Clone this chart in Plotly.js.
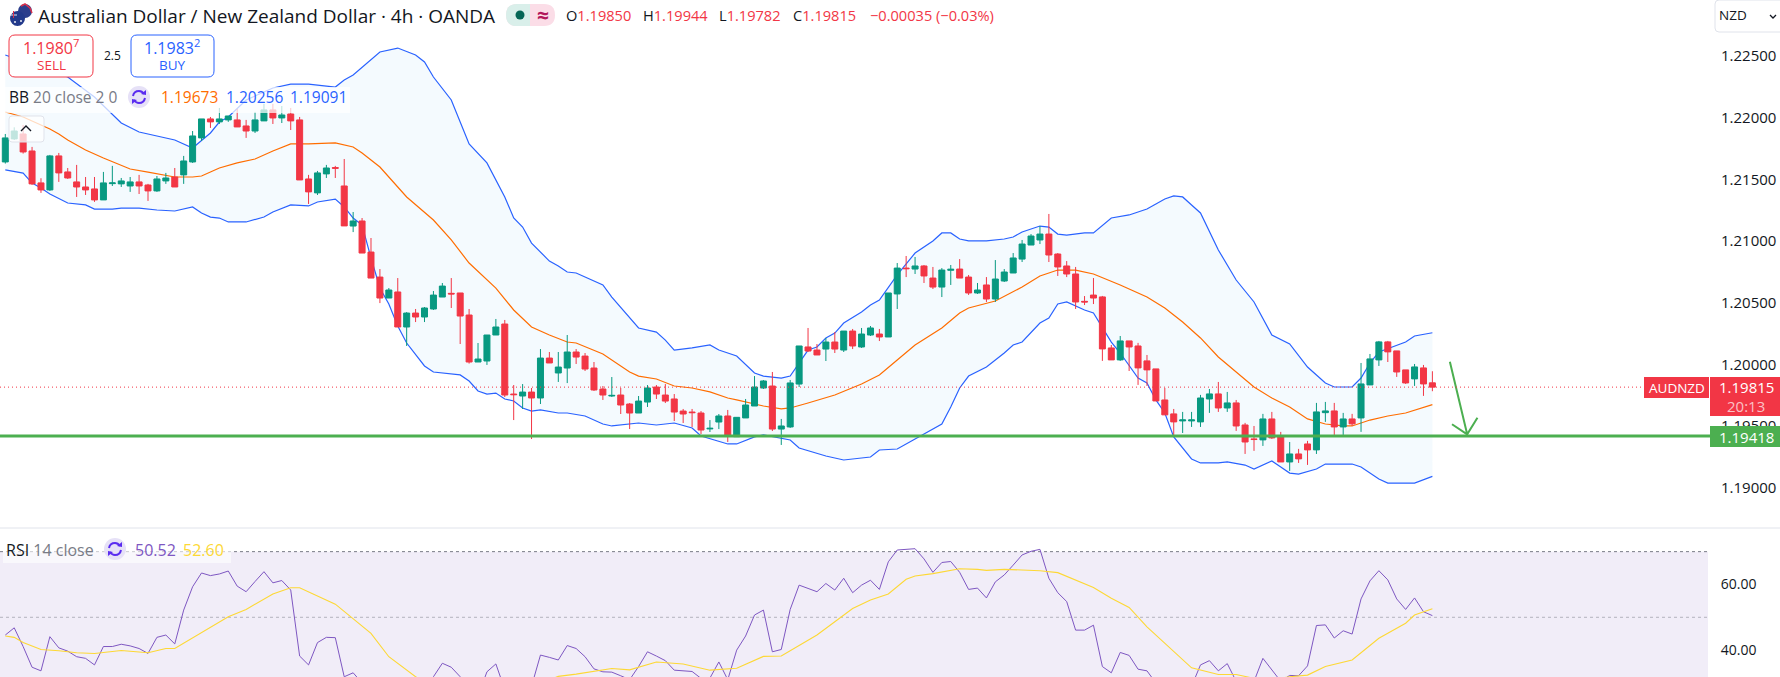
<!DOCTYPE html>
<html><head><meta charset="utf-8">
<script src="https://cdn.plot.ly/plotly-3.0.1.min.js"></script>
<style>html,body{margin:0;padding:0;background:#fff;overflow:hidden}#c{width:1780px;height:677px}</style>
</head><body><div id="c"></div>
<script>
const opens=[1.21642,1.21829,1.21869,1.21731,1.21472,1.21415,1.21691,1.21561,1.21480,1.21439,
1.21423,1.21334,1.21466,1.21464,1.21447,1.21480,1.21455,1.21407,1.21488,1.21520,
1.21537,1.21642,1.21837,1.21991,1.21967,1.21983,1.21983,1.21934,1.21893,1.21975,
1.22064,1.21999,1.22031,1.21983,1.21504,1.21391,1.21545,1.21596,1.21447,1.21122,
1.21163,1.20911,1.20708,1.20538,1.20587,1.20303,1.20416,1.20384,1.20449,1.20546,
1.20576,1.20579,1.20400,1.20019,1.20027,1.20238,1.20327,1.19759,1.19743,1.19775,
1.19727,1.20051,1.19930,1.19970,1.20100,1.20067,1.19970,1.19800,1.19743,1.19751,
1.19678,1.19605,1.19694,1.19816,1.19751,1.19719,1.19621,1.19613,1.19605,1.19476,
1.19532,1.19581,1.19413,1.19565,1.19662,1.19808,1.19824,1.19475,1.19492,1.19840,
1.20141,1.20116,1.20124,1.20181,1.20116,1.20270,1.20141,1.20238,1.20246,1.20222,
1.20571,1.20781,1.20773,1.20798,1.20700,1.20627,1.20763,1.20773,1.20708,1.20579,
1.20644,1.20530,1.20676,1.20741,1.20854,1.20968,1.21009,1.21057,1.20895,1.20798,
1.20733,1.20511,1.20562,1.20547,1.20133,1.20036,1.20190,1.20149,1.20028,1.19963,
1.19711,1.19598,1.19541,1.19541,1.19533,1.19719,1.19760,1.19646,1.19687,1.19508,
1.19395,1.19387,1.19557,1.19411,1.19208,1.19273,1.19354,1.19306,1.19608,1.19622,
1.19492,1.19557,1.19565,1.19833,1.20036,1.20182,1.20109,1.19955,1.19882,1.19971,1.19850];
const highs=[1.21869,1.21923,1.21942,1.21764,1.21510,1.21699,1.21715,1.21593,1.21618,1.21520,
1.21520,1.21561,1.21610,1.21512,1.21520,1.21537,1.21464,1.21528,1.21553,1.21593,
1.21691,1.21893,1.21991,1.22007,1.22080,1.22015,1.22072,1.21983,1.22048,1.22113,
1.22113,1.22096,1.22080,1.22007,1.21537,1.21569,1.21618,1.21610,1.21666,1.21236,
1.21187,1.21025,1.20773,1.20619,1.20700,1.20424,1.20449,1.20465,1.20595,1.20660,
1.20700,1.20579,1.20449,1.20173,1.20238,1.20368,1.20360,1.19832,1.19840,1.19808,
1.20124,1.20100,1.20100,1.20238,1.20124,1.20092,1.20019,1.19824,1.19897,1.19808,
1.19686,1.19743,1.19832,1.19832,1.19840,1.19759,1.19638,1.19638,1.19621,1.19548,
1.19597,1.19630,1.19570,1.19719,1.19905,1.19873,1.19938,1.19557,1.19873,1.20149,
1.20295,1.20165,1.20214,1.20262,1.20270,1.20287,1.20295,1.20311,1.20287,1.20579,
1.20822,1.20879,1.20871,1.20806,1.20790,1.20781,1.20806,1.20854,1.20725,1.20660,
1.20708,1.20846,1.20773,1.20903,1.21009,1.21057,1.21122,1.21220,1.20903,1.20838,
1.20790,1.20554,1.20700,1.20555,1.20157,1.20230,1.20190,1.20174,1.20076,1.19963,
1.19809,1.19638,1.19614,1.19614,1.19752,1.19800,1.19857,1.19776,1.19711,1.19525,
1.19500,1.19598,1.19614,1.19452,1.19370,1.19314,1.19379,1.19687,1.19695,1.19687,
1.19606,1.19598,1.20011,1.20084,1.20190,1.20190,1.20109,1.19955,1.20003,1.19995,1.19944];
const lows=[1.21629,1.21820,1.21710,1.21455,1.21391,1.21407,1.21480,1.21504,1.21358,1.21374,
1.21318,1.21334,1.21447,1.21439,1.21399,1.21382,1.21326,1.21399,1.21464,1.21439,
1.21464,1.21634,1.21812,1.21918,1.21950,1.21967,1.21926,1.21837,1.21877,1.21975,
1.21950,1.21958,1.21901,1.21496,1.21301,1.21374,1.21512,1.21512,1.21123,1.21073,
1.20903,1.20700,1.20497,1.20538,1.20303,1.20149,1.20343,1.20343,1.20441,1.20546,
1.20457,1.20165,1.20006,1.20019,1.19995,1.20238,1.19735,1.19548,1.19638,1.19394,
1.19678,1.20011,1.19857,1.19848,1.20003,1.19946,1.19784,1.19711,1.19735,1.19597,
1.19475,1.19605,1.19654,1.19719,1.19686,1.19540,1.19524,1.19491,1.19435,1.19451,
1.19475,1.19370,1.19413,1.19565,1.19662,1.19800,1.19459,1.19346,1.19484,1.19816,
1.20100,1.20076,1.20027,1.20092,1.20100,1.20124,1.20133,1.20230,1.20189,1.20222,
1.20449,1.20708,1.20733,1.20660,1.20611,1.20546,1.20644,1.20700,1.20563,1.20571,
1.20506,1.20506,1.20668,1.20741,1.20830,1.20968,1.20976,1.20830,1.20717,1.20708,
1.20449,1.20481,1.20489,1.20028,1.20036,1.20028,1.19946,1.19833,1.19825,1.19703,
1.19590,1.19419,1.19443,1.19492,1.19492,1.19606,1.19614,1.19614,1.19460,1.19273,
1.19298,1.19338,1.19395,1.19208,1.19135,1.19200,1.19184,1.19273,1.19533,1.19427,
1.19427,1.19500,1.19452,1.19833,1.19987,1.20019,1.19898,1.19841,1.19825,1.19744,1.19782];
const closes=[1.21837,1.21893,1.21723,1.21464,1.21415,1.21691,1.21553,1.21512,1.21439,1.21415,
1.21334,1.21472,1.21472,1.21488,1.21480,1.21447,1.21407,1.21504,1.21512,1.21439,
1.21650,1.21853,1.21991,1.21967,1.21991,1.22015,1.21926,1.21893,1.21983,1.22064,
1.21999,1.22023,1.21975,1.21496,1.21399,1.21553,1.21593,1.21591,1.21123,1.21163,
1.20903,1.20700,1.20538,1.20603,1.20303,1.20416,1.20384,1.20457,1.20562,1.20635,
1.20571,1.20392,1.20019,1.20043,1.20238,1.20303,1.19751,1.19754,1.19775,1.19727,
1.20051,1.20011,1.19978,1.20100,1.20059,1.19962,1.19792,1.19751,1.19748,1.19670,
1.19605,1.19702,1.19808,1.19759,1.19702,1.19613,1.19597,1.19608,1.19467,1.19481,
1.19581,1.19419,1.19570,1.19670,1.19816,1.19865,1.19475,1.19500,1.19849,1.20149,
1.20108,1.20076,1.20181,1.20124,1.20270,1.20149,1.20246,1.20295,1.20222,1.20579,
1.20781,1.20776,1.20798,1.20717,1.20627,1.20765,1.20771,1.20700,1.20579,1.20603,
1.20530,1.20692,1.20749,1.20863,1.20976,1.21041,1.21057,1.20887,1.20790,1.20733,
1.20506,1.20506,1.20538,1.20125,1.20036,1.20190,1.20141,1.19971,1.19955,1.19703,
1.19590,1.19533,1.19549,1.19549,1.19727,1.19760,1.19646,1.19687,1.19500,1.19370,
1.19390,1.19557,1.19403,1.19208,1.19273,1.19233,1.19306,1.19614,1.19622,1.19492,
1.19557,1.19517,1.19841,1.20044,1.20182,1.20101,1.19938,1.19849,1.19979,1.19841,1.19815];

const upperIdx=[0,7,10,13,15,17,19,21,22,23,24,25,27,30,32,34,37,38,39,42,44,46,47,48,50,52,54,56,57,58,59,61,62,63,64,67,68,70,71,73,74,75,77,79,80,82,83,84,85,87,88,89,90,91,92,93,94,96,97,98,99,100,102,104,105,106,107,108,110,112,113,114,116,117,118,119,121,122,124,126,128,130,131,132,133,134,136,138,140,141,142,144,146,147,148,149,151,152,153,154,156,157,158,160];
const upperVal=[1.22510,1.22331,1.22169,1.21958,1.21885,1.21853,1.21820,1.21755,1.21820,1.21877,1.21966,1.22007,1.22145,1.22242,1.22274,1.22274,1.22250,1.22307,1.22347,1.22534,1.22566,1.22510,1.22453,1.22331,1.22145,1.21788,1.21634,1.21358,1.21187,1.21114,1.20984,1.20838,1.20798,1.20749,1.20741,1.20644,1.20546,1.20376,1.20295,1.20262,1.20197,1.20116,1.20133,1.20157,1.20116,1.20068,1.19995,1.19930,1.19905,1.19889,1.19905,1.20011,1.20116,1.20141,1.20214,1.20254,1.20335,1.20425,1.20481,1.20522,1.20627,1.20725,1.20903,1.21001,1.21066,1.21066,1.21017,1.21001,1.21001,1.21017,1.21033,1.21074,1.21122,1.21114,1.21057,1.21049,1.21066,1.21066,1.21187,1.21212,1.21260,1.21341,1.21366,1.21358,1.21293,1.21228,1.20928,1.20684,1.20506,1.20376,1.20238,1.20165,1.19978,1.19914,1.19849,1.19816,1.19816,1.19889,1.20011,1.20100,1.20157,1.20181,1.20230,1.20256];
const lowerIdx=[0,2,3,4,5,7,9,10,12,13,15,17,19,21,22,23,24,25,27,29,30,32,34,35,37,38,39,40,41,42,43,44,45,47,48,51,52,53,54,55,56,57,58,59,60,62,63,65,67,68,71,73,75,77,78,81,82,84,85,88,89,92,94,97,98,100,105,106,107,108,110,112,113,114,116,117,118,119,121,122,124,125,127,128,129,130,131,133,134,136,137,139,140,142,143,144,145,147,148,151,152,154,155,158,160];
const lowerVal=[1.21577,1.21552,1.21471,1.21431,1.21382,1.21309,1.21293,1.21260,1.21260,1.21268,1.21268,1.21252,1.21244,1.21277,1.21228,1.21195,1.21187,1.21155,1.21155,1.21195,1.21236,1.21293,1.21285,1.21317,1.21341,1.21277,1.21187,1.21130,1.20863,1.20619,1.20490,1.20311,1.20173,1.19987,1.19938,1.19914,1.19865,1.19784,1.19759,1.19767,1.19719,1.19703,1.19646,1.19621,1.19630,1.19605,1.19605,1.19581,1.19516,1.19500,1.19524,1.19508,1.19524,1.19484,1.19419,1.19354,1.19354,1.19411,1.19427,1.19386,1.19321,1.19256,1.19224,1.19248,1.19305,1.19313,1.19516,1.19654,1.19808,1.19905,1.19978,1.20092,1.20157,1.20181,1.20335,1.20376,1.20490,1.20506,1.20441,1.20417,1.20181,1.20092,1.19889,1.19849,1.19711,1.19605,1.19411,1.19232,1.19200,1.19200,1.19208,1.19183,1.19151,1.19216,1.19167,1.19118,1.19110,1.19151,1.19191,1.19191,1.19167,1.19070,1.19037,1.19037,1.19091];
const basisIdx=[0,2,5,6,7,9,11,14,16,19,21,22,24,26,28,30,32,34,37,39,40,42,45,48,50,52,55,57,59,61,63,64,67,70,71,73,75,77,79,81,82,85,87,88,90,93,96,98,100,102,105,107,108,111,114,116,118,120,122,124,125,128,130,132,134,136,138,140,142,144,146,148,150,151,153,155,157,160];
const basisVal=[1.22047,1.22007,1.21909,1.21869,1.21820,1.21739,1.21674,1.21585,1.21560,1.21520,1.21520,1.21528,1.21593,1.21634,1.21666,1.21731,1.21788,1.21788,1.21796,1.21763,1.21715,1.21601,1.21358,1.21171,1.21009,1.20822,1.20619,1.20441,1.20303,1.20238,1.20181,1.20173,1.20084,1.19938,1.19905,1.19881,1.19824,1.19808,1.19776,1.19727,1.19711,1.19662,1.19638,1.19646,1.19686,1.19751,1.19841,1.19914,1.20035,1.20157,1.20295,1.20417,1.20457,1.20514,1.20627,1.20717,1.20765,1.20765,1.20733,1.20676,1.20644,1.20546,1.20457,1.20344,1.20214,1.20060,1.19938,1.19816,1.19727,1.19654,1.19557,1.19516,1.19500,1.19500,1.19548,1.19581,1.19605,1.19673];

const rsiVal=[44.6,46.8,41.1,34.8,33.7,44.1,40.7,39.7,38.0,37.5,35.5,41.1,41.1,41.8,41.3,40.5,39.0,43.9,44.6,41.9,52.2,59.3,63.5,62.7,63.2,64.1,59.5,57.8,60.9,63.9,60.5,61.2,58.3,38.2,35.5,42.3,43.9,43.8,31.9,33.1,
30,27,26,27,24,26,26.5,27,31.9,36.0,34.8,31.9,28,26,33.4,35.8,28,27.5,27,29,38.5,37.8,37.0,41.4,40.5,38.0,34.3,33.4,33.3,32.2,31.0,35.0,39.5,38.2,36.8,33.9,33.7,33.5,31.4,31.5,36.4,31.0,
40.0,44.3,50.7,52.2,39.5,40.2,52.4,59.8,58.8,57.8,60.3,58.3,61.9,57.5,59.8,61.3,58.5,66.9,70.5,70.7,70.9,67.8,63.7,66.7,67.0,63.7,58.5,58.9,55.9,60.8,62.9,65.9,69.0,70.1,70.7,61.9,57.5,54.8,46.1,46.1,47.6,35.0,33.1,39.3,38.4,34.2,33.7,30,28,27.5,28,29,35.5,36.8,33.7,35.9,30.5,29.5,30.5,37.5,33.9,30.5,32.3,32.2,35.2,47.5,47.7,43.7,45.9,44.9,55.6,61.1,64.2,61.4,55.6,52.4,55.9,51.7,50.52];
const rsiMaIdx=[0,1,2,4,6,8,10,12,13,16,18,19,20,22,25,27,30,32,33,37,41,43,46,48,52,56,60,62,64,68,70,73,76,79,82,85,87,91,95,97,99,101,102,104,107,109,110,112,116,118,121,122,124,126,128,131,133,136,138,140,142,144,146,148,151,154,157,158,160];
const rsiMaVal=[44.3,43.9,42.3,40.2,39.8,39.2,39.0,39.6,39.9,39.2,40.5,40.5,42.1,45.3,50.2,52.4,57.1,59.0,59.0,54.0,45.1,38.0,31.9,29,27,27,30,32.0,32.7,34.4,34.0,36.4,35.8,33.9,34.5,38.1,38.2,44.6,52.7,55.3,57.1,61.6,62.6,63.3,64.8,64.6,64.3,64.6,64.2,63.6,60.3,59.1,55.8,53.0,47.1,39.5,34.6,32.6,32.6,31.4,31,31.9,32.4,35.0,37.0,43.6,48.2,50.7,52.6];

const priceTicks=[1.19,1.195,1.20,1.205,1.21,1.215,1.22,1.225];
const priceTickText=["1.19000","1.19500","1.20000","1.20500","1.21000","1.21500","1.22000","1.22500"];
const rsiTicks=[40,60];
const rsiTickText=["40.00","60.00"];
const lastPrice=1.19815, supportLevel=1.19418;
const arrowX=[161.96,163.9,162.2,163.9,165.05];
const arrowY=[1.20021,1.19432,1.19514,1.19432,1.19567];

const W=1780,H=677,FONT='"Open Sans", sans-serif';
const red='#F23645',green='#089981',blue='#2962FF',ink='#131722',grey='#787B86';
const X=x=>x/W, Y=y=>1-y/H;
const idx=opens.map((_,i)=>i);
const T=(x,y,text,size,color,anchor)=>({xref:'paper',yref:'paper',x:X(x),y:Y(y),text,showarrow:false,
  xanchor:anchor||'left',yanchor:'middle',borderpad:0,font:{family:FONT,size,color}});
const rr=(x0,y0,x1,y1,r)=>{const a=X,b=Y;return `M${a(x0+r)},${b(y0)} L${a(x1-r)},${b(y0)} Q${a(x1)},${b(y0)} ${a(x1)},${b(y0+r)} L${a(x1)},${b(y1-r)} Q${a(x1)},${b(y1)} ${a(x1-r)},${b(y1)} L${a(x0+r)},${b(y1)} Q${a(x0)},${b(y1)} ${a(x0)},${b(y1-r)} L${a(x0)},${b(y0+r)} Q${a(x0)},${b(y0)} ${a(x0+r)},${b(y0)} Z`;};
const P=(d,o)=>Object.assign({type:'path',xref:'paper',yref:'paper',path:d,layer:'above',line:{width:0}},o);
const R=(x0,y0,x1,y1,fill)=>({type:'rect',xref:'paper',yref:'paper',x0:X(x0),x1:X(x1),y0:Y(y1),y1:Y(y0),fillcolor:fill,line:{width:0},layer:'above'});
const C=(cx,cy,r,fill)=>({type:'circle',xref:'paper',yref:'paper',x0:X(cx-r),x1:X(cx+r),y0:Y(cy+r),y1:Y(cy-r),fillcolor:fill,line:{width:0},layer:'above'});
const L=(pts)=>'M'+pts.map(p=>X(p[0])+','+Y(p[1])).join(' L');
const icon=(cx,cy)=>[C(cx,cy,11,'#E6E1F7'),
  P(`M${X(cx-6)},${Y(cy-1)} Q${X(cx-5)},${Y(cy-6)} ${X(cx)},${Y(cy-6)} Q${X(cx+3)},${Y(cy-6)} ${X(cx+5)},${Y(cy-3)}`,{line:{color:'#5A2CF0',width:2}}),
  P(`M${X(cx+6)},${Y(cy+1)} Q${X(cx+5)},${Y(cy+6)} ${X(cx)},${Y(cy+6)} Q${X(cx-3)},${Y(cy+6)} ${X(cx-5)},${Y(cy+3)}`,{line:{color:'#5A2CF0',width:2}}),
  P(L([[cx+2,cy-3],[cx+7,cy-2],[cx+7,cy-7]])+' Z',{fillcolor:'#5A2CF0'}),
  P(L([[cx-2,cy+3],[cx-7,cy+2],[cx-7,cy+7]])+' Z',{fillcolor:'#5A2CF0'})];

const traces=[
 {type:'scatter',mode:'lines',x:lowerIdx,y:lowerVal,line:{color:blue,width:1.2},hoverinfo:'skip',showlegend:false},
 {type:'scatter',mode:'lines',x:upperIdx,y:upperVal,line:{color:blue,width:1.2},fill:'tonexty',fillcolor:'rgba(33,150,243,0.05)',hoverinfo:'skip',showlegend:false},
 {type:'scatter',mode:'lines',x:basisIdx,y:basisVal,line:{color:'#FF6D00',width:1.2},hoverinfo:'skip',showlegend:false},
 {type:'candlestick',x:idx,open:opens,high:highs,low:lows,close:closes,yaxis:'y3',whiskerwidth:0,
  increasing:{line:{color:green,width:1},fillcolor:green},decreasing:{line:{color:red,width:1},fillcolor:red},hoverinfo:'skip',showlegend:false},
 {type:'scatter',mode:'lines',x:idx,y:rsiVal,yaxis:'y2',line:{color:'#7E57C2',width:1},hoverinfo:'skip',showlegend:false},
 {type:'scatter',mode:'lines',x:rsiMaIdx,y:rsiMaVal,yaxis:'y2',line:{color:'#FDD835',width:1.1},hoverinfo:'skip',showlegend:false},
 {type:'scatter',mode:'lines',x:arrowX,y:arrowY,yaxis:'y3',line:{color:'#4CAF50',width:2},hoverinfo:'skip',showlegend:false}
];
const priceRange=[1.186803,1.229559];
const shapes=[
 {type:'rect',xref:'paper',yref:'y2',x0:0,x1:1708/W,y0:30,y1:70,fillcolor:'rgba(126,87,194,0.11)',line:{width:0},layer:'below'},
 {type:'line',xref:'paper',yref:'y2',x0:0,x1:1708/W,y0:70,y1:70,line:{color:grey,width:1,dash:'3px,3px'},layer:'below'},
 {type:'line',xref:'paper',yref:'y2',x0:0,x1:1708/W,y0:50,y1:50,line:{color:'rgba(120,123,134,0.5)',width:1,dash:'3px,3px'},layer:'below'},
 {type:'line',xref:'paper',yref:'paper',x0:0,x1:1,y0:Y(528),y1:Y(528),line:{color:'#E0E3EB',width:1},layer:'above'},
 {type:'line',xref:'paper',yref:'y',x0:0,x1:1644/W,y0:lastPrice,y1:lastPrice,line:{color:red,width:1,dash:'1px,3px'},layer:'above'},
 {type:'line',xref:'paper',yref:'y',x0:0,x1:1710/W,y0:supportLevel,y1:supportLevel,line:{color:'#4CAF50',width:3},layer:'above'},
 R(1644,377,1709,398,red),R(1710,377,1780,416,red),R(1710,426,1780,447,'#4CAF50'),
 R(0,87,350,113,'rgba(255,255,255,0.72)'),R(3,544,231,563,'rgba(255,255,255,0.6)'),
 P(rr(9,35,93,77,6),{fillcolor:'#fff',line:{color:red,width:1}}),
 P(rr(131,35,214,77,6),{fillcolor:'#fff',line:{color:blue,width:1}}),
 P(rr(9,116,44,142,3),{fillcolor:'rgba(255,255,255,0.75)',line:{color:'#E0E3EB',width:1}}),
 P(L([[21,131],[26,126],[31,131]]),{line:{color:ink,width:1.4}}),
 P(rr(1715,0,1790,32,4),{fillcolor:'#fff',line:{color:'#E0E3EB',width:1}}),
 P(L([[1770,15],[1773,18],[1776,15]]),{line:{color:ink,width:1.3}}),
 P(rr(506,4,555,26,11),{fillcolor:'#FBDDE7'}),
 P(`M${X(530)},${Y(4)} L${X(517)},${Y(4)} Q${X(506)},${Y(4)} ${X(506)},${Y(15)} Q${X(506)},${Y(26)} ${X(517)},${Y(26)} L${X(530)},${Y(26)} Z`,{fillcolor:'#D9EFEA'}),
 C(520,15,4.5,'#056656'),
 C(25,11,7,'#2B3E8C'),P(L([[21,6],[25,4],[30,8],[32,13]]),{line:{color:'#D9304B',width:1.5}}),
 C(17.5,18.5,7.5,'#233A8B'),P(L([[10,15],[17,15]]),{line:{color:'#E8E8F0',width:1}}),P(L([[13.5,11],[13.5,18]]),{line:{color:'#D9304B',width:1}}),
 C(21,21,0.9,'#fff'),C(15,22,0.9,'#fff'),
 ...icon(139,97),...icon(115,549)
];
const annotations=[
 T(37,16,'Australian Dollar / New Zealand Dollar · 4h · OANDA',19,ink),
 T(543,15,'<b>≈</b>',21,'#B2185B','center'),
 T(565,15,`O<span style="color:${red}">1.19850</span>`,14.6,ink),
 T(642,15,`H<span style="color:${red}">1.19944</span>`,14.6,ink),
 T(718,15,`L<span style="color:${red}">1.19782</span>`,14.6,ink),
 T(792,15,`C<span style="color:${red}">1.19815</span>`,14.6,ink),
 T(869,15,'−0.00035 (−0.03%)',14.6,red),
 T(51,47,'1.1980<sup>7</sup>',16,red,'center'),T(51,65,'SELL',13.5,red,'center'),
 T(112,55,'2.5',12,ink,'center'),
 T(172,47,'1.1983<sup>2</sup>',16,blue,'center'),T(172,65,'BUY',13.5,blue,'center'),
 T(8,97,`BB <span style="color:${grey}">20 close 2 0</span>`,15.5,ink),
 T(160,97,'1.19673',15.5,'#FF6D00'),T(225,97,'1.20256',15.5,blue),T(289,97,'1.19091',15.5,blue),
 T(5,550,`RSI <span style="color:${grey}">14 close</span>`,16,ink),
 T(134,550,'50.52',16,'#7E57C2'),T(182,550,'52.60',16,'#FDD835'),
 T(1718,15,'NZD',13.5,ink),
 T(1677,388,'AUDNZD',13.5,'#fff','center'),
 T(1746,387.5,'1.19815',15,'#fff','center'),T(1746,406,'20:13',15,'rgba(255,255,255,0.7)','center'),
 T(1746,436.5,'1.19418',15,'#fff','center')
];
const layout={width:W,height:H,margin:{l:0,r:0,t:0,b:0,pad:0},paper_bgcolor:'#fff',plot_bgcolor:'#fff',showlegend:false,hovermode:false,
 boxgap:0.18,boxgroupgap:0.18,
 xaxis:{domain:[0,1708/W],range:[-0.594,190.9],visible:false,rangeslider:{visible:false},fixedrange:true,anchor:'y'},
 yaxis:{domain:[(H-527)/H,1],range:priceRange,side:'right',anchor:'x',tickmode:'array',tickvals:priceTicks,ticktext:priceTickText,
  showgrid:false,zeroline:false,showline:false,ticks:'outside',ticklen:9,tickcolor:'rgba(0,0,0,0)',tickfont:{family:FONT,size:15,color:ink},fixedrange:true},
 yaxis2:{domain:[0,(H-529)/H],range:[31.82,76.9],side:'right',anchor:'x',tickmode:'array',tickvals:rsiTicks,ticktext:rsiTickText,
  showgrid:false,zeroline:false,showline:false,ticks:'outside',ticklen:9,tickcolor:'rgba(0,0,0,0)',tickfont:{family:FONT,size:14,color:ink},fixedrange:true},
 yaxis3:{overlaying:'y',range:priceRange,visible:false,fixedrange:true,anchor:'x',side:'right'},
 shapes,annotations};
Plotly.newPlot('c',traces,layout,{displayModeBar:false,staticPlot:true});
</script></body></html>
